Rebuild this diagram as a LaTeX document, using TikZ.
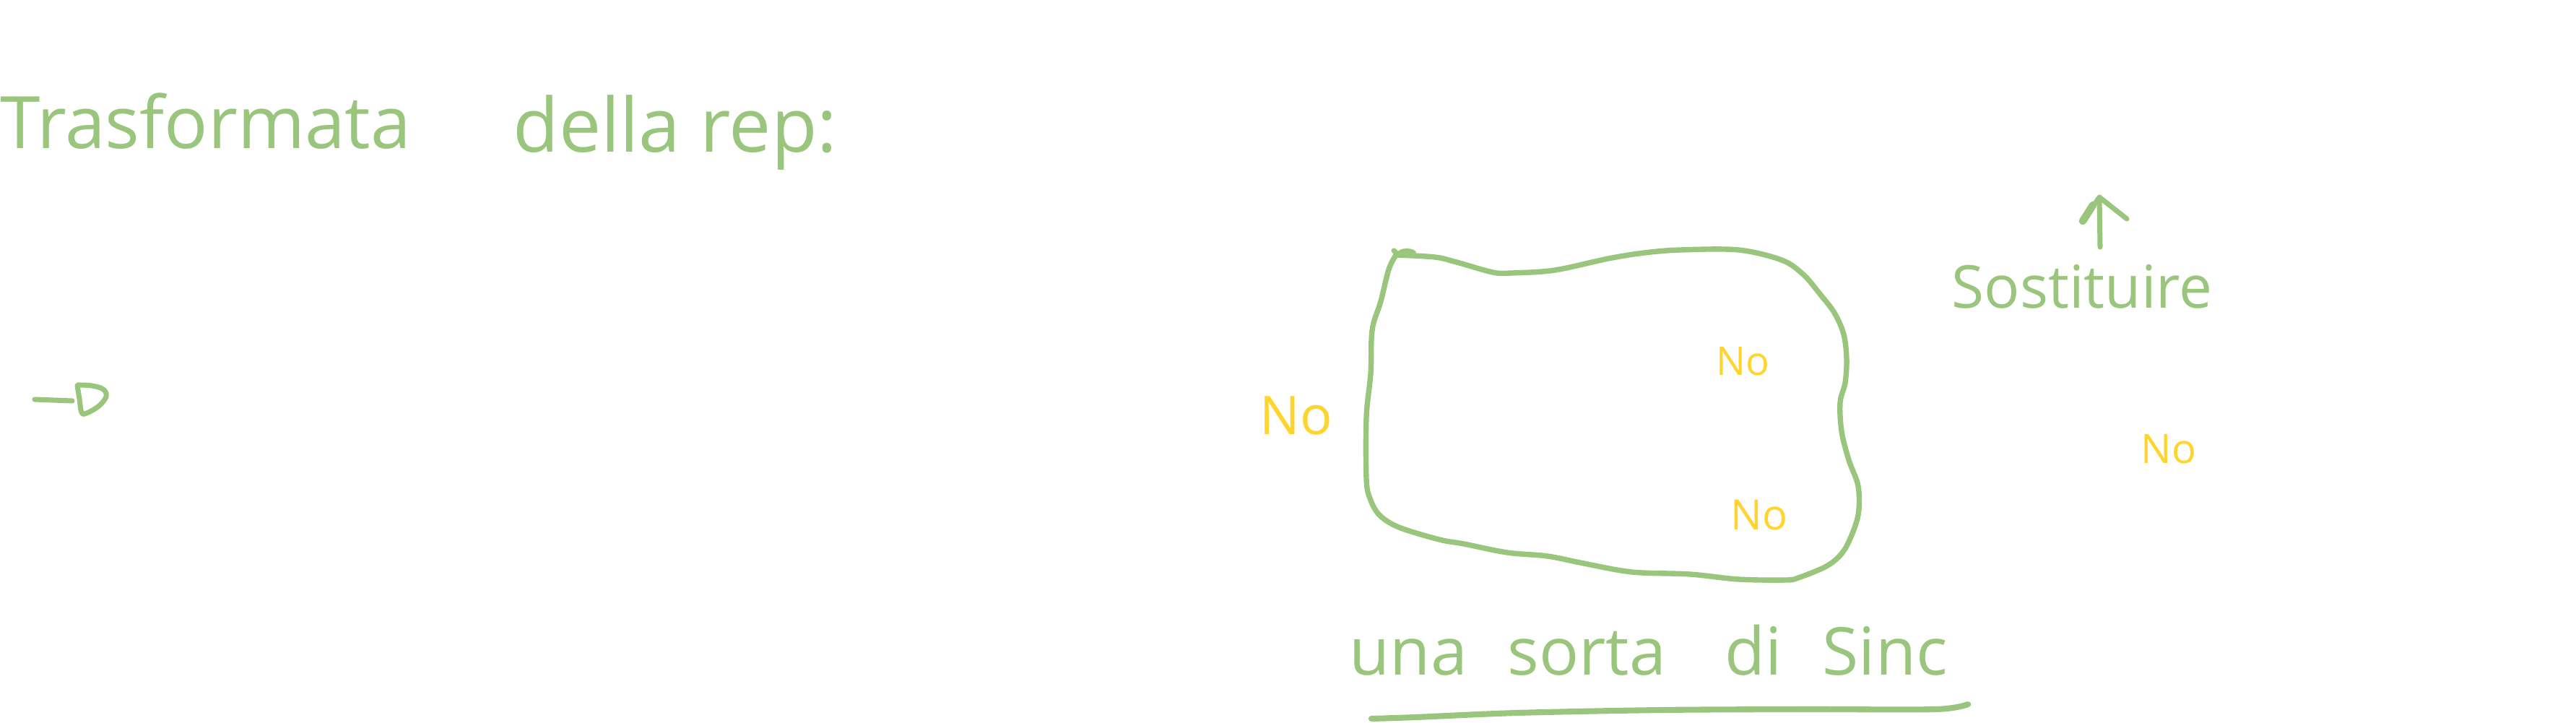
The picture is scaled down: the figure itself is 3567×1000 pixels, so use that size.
\documentclass[tikz,border=0pt]{standalone}
\usepackage{fontspec}
\setmainfont{Open Sans}
\definecolor{penGreen}{RGB}{154,197,124}
\definecolor{penYellow}{RGB}{255,212,44}
\begin{document}
\begin{tikzpicture}[x=0.01cm,y=-0.01cm,
  greentext/.style={text=penGreen,inner sep=0pt,anchor=base west},
  yellowtext/.style={text=penYellow,inner sep=0pt,anchor=base west},
  pen/.style={draw=penGreen,line width=2pt,line cap=round,line join=round}]
\useasboundingbox[fill=white] (0,0) rectangle (3567,1000);

% title
\node[greentext,font=\fontsize{28.5}{30}\selectfont] (title1) at (0,205) {Trasformata};
\node[greentext,font=\fontsize{29.5}{31}\selectfont] (title2) at (710,210) {della rep:};

% hand-drawn arrow on the left
\coordinate (dashA) at (48,553);
\coordinate (dashB) at (100,555);
\draw[pen] (dashA) -- (dashB);
\draw[pen] plot[smooth,tension=0.6] coordinates {(108,533) (127,534) (143,539) (147,549) (137,562) (120,572) (113,571) (110,552) (107,534)};

% blob
\draw[pen,line width=2.1pt] plot[smooth,tension=0.55] coordinates {
 (1933,353) (1987,356) (2017,363) (2067,377) (2093,378) (2153,374) (2227,358)
 (2277,350) (2327,346) (2407,346) (2467,360) (2497,380) (2520,407) (2540,433)
 (2553,463) (2557,497) (2555,530) (2548,557) (2550,597) (2560,637) (2573,673)
 (2573,713) (2560,750) (2547,770) (2527,785) (2490,800) (2473,803) (2407,802)
 (2340,795) (2260,792) (2193,780) (2143,770) (2087,765) (2027,753) (1993,747)
 (1937,730) (1910,713) (1897,690) (1892,663) (1892,577) (1898,517) (1899,470)
 (1902,447) (1912,417) (1923,373) (1933,353)};
\fill[penGreen] (1948,350) ellipse [x radius=13, y radius=6];
\draw[pen] (1930,347) -- (1937,353);

% yellow labels
\node[yellowtext,font=\fontsize{21}{23}\selectfont] (noLeft) at (1744,601) {No};
\node[yellowtext,font=\fontsize{15.5}{17}\selectfont] (noTop) at (2376,519) {No};
\node[yellowtext,font=\fontsize{16.5}{18}\selectfont] (noBottom) at (2396,733) {No};
\node[yellowtext,font=\fontsize{16}{18}\selectfont] (noRight) at (2964,641) {No};

% Sostituire with arrow
\node[greentext,font=\fontsize{23.3}{25}\selectfont] (sost) at (2702,426) {Sostituire};
\coordinate (arrBase) at (2908,342);
\coordinate (arrTip) at (2907,275);
\draw[pen] (arrBase) -- (arrTip);
\draw[pen] (2885,305) -- (2907,273) -- (2945,303);
\draw[pen,line width=3pt] (2884,306) -- (2898,284);

% bottom caption
\node[greentext,font=\fontsize{26}{28}\selectfont] (capUna) at (1868,934) {una};
\node[greentext,font=\fontsize{26}{28}\selectfont] (capSorta) at (2087,934) {sorta};
\node[greentext,font=\fontsize{26}{28}\selectfont] (capDi) at (2388,934) {di};
\node[greentext,font=\fontsize{26}{28}\selectfont] (capSinc) at (2523,934) {Sinc};
\draw[pen,line width=2.3pt] plot[smooth,tension=0.5] coordinates {(1899,995) (1960,993) (2100,987) (2300,983) (2500,982) (2680,982) (2725,975)};
\end{tikzpicture}
\end{document}
